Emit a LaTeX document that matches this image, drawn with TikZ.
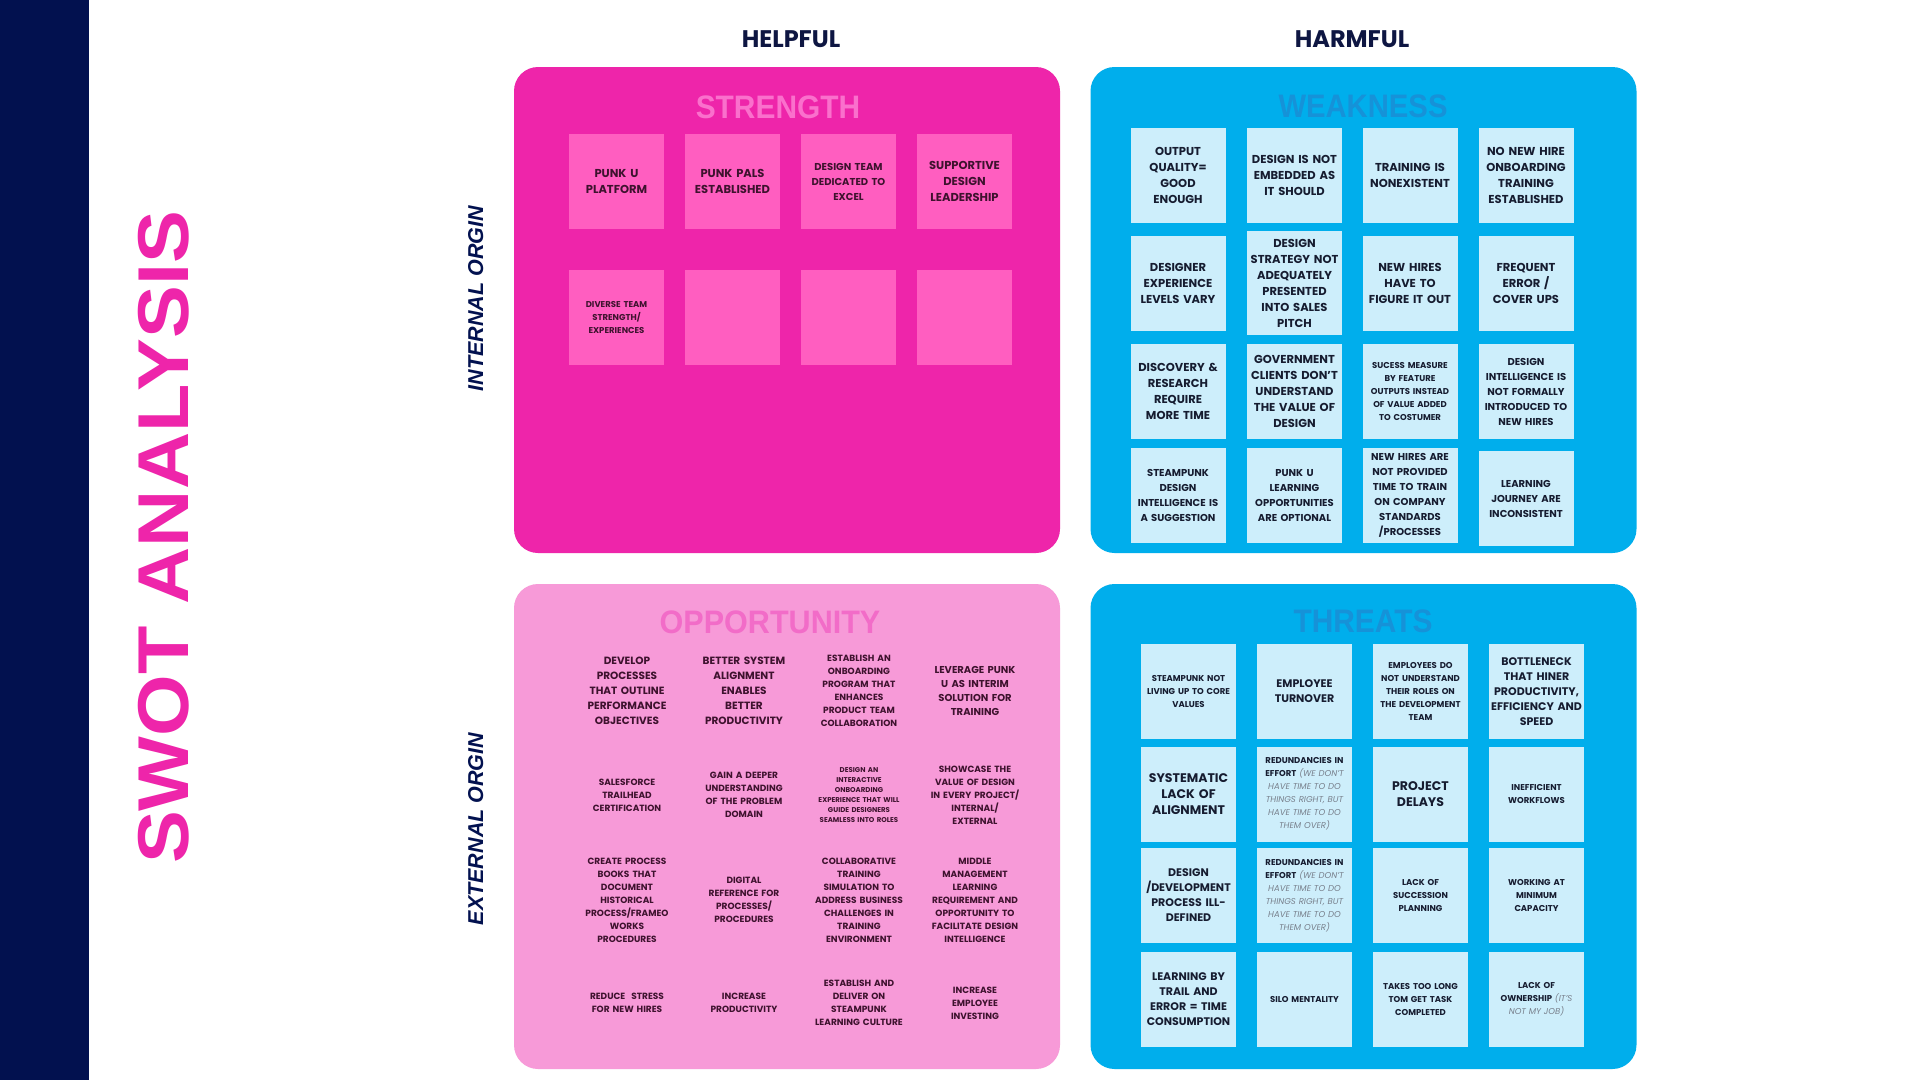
\documentclass[tikz,border=0pt]{standalone}
\usepackage{fontspec}
\setmainfont{Poppins}
\newfontfamily\tfont{Liberation Sans}
\definecolor{navy}{RGB}{2,17,79}
\definecolor{hdr}{RGB}{14,22,66}
\definecolor{sbox}{RGB}{238,37,170}
\definecolor{snote}{RGB}{255,94,192}
\definecolor{stitle}{RGB}{250,112,204}
\definecolor{wbox}{RGB}{0,174,236}
\definecolor{wnote}{RGB}{205,238,251}
\definecolor{wtitle}{RGB}{22,146,216}
\definecolor{obox}{RGB}{247,154,216}
\definecolor{otitle}{RGB}{242,108,200}
\definecolor{ptext}{RGB}{62,18,46}
\definecolor{btext}{RGB}{22,28,48}
\definecolor{itgray}{RGB}{120,128,140}
\newcommand\fz[2]{\fontsize{#1pt}{#2pt}\selectfont\bfseries}
\newcommand\gi[1]{{\mdseries\itshape\color{itgray}#1}}
\tikzset{
  quad/.style={rounded corners=24pt, inner sep=0pt, minimum width=546pt, minimum height=486pt},
  pnote/.style={fill=snote, minimum width=95pt, minimum height=95pt, inner sep=0pt, text width=94pt, align=center, text=ptext},
  bnote/.style={fill=wnote, minimum width=95pt, minimum height=95pt, inner sep=0pt, text width=94pt, align=center, text=btext},
  otxt/.style={inner sep=0pt, text width=110pt, align=center, text=ptext},
  qtitle/.style={anchor=base, inner sep=0pt, font=\tfont\bfseries\fontsize{32.5pt}{34pt}\selectfont},
  side/.style={anchor=base, rotate=90, inner sep=0pt, text=navy, font=\tfont\bfseries\itshape\fontsize{21.5pt}{22pt}\selectfont},
  head/.style={anchor=base, inner sep=0pt, text=hdr, font=\fz{24}{26}}
}
\begin{document}
\begin{tikzpicture}[x=1pt,y=-1pt]
\path[use as bounding box] (0,0) rectangle (1920,1080);
\fill[white] (0,0) rectangle (1920,1080);
\fill[navy] (0,0) rectangle (89,1080);

% title and side labels
\node[anchor=base, rotate=90, inner sep=0pt, text=sbox, font=\tfont\bfseries\fontsize{72pt}{74pt}\selectfont] (title) at (188,537.5) {\scalebox{1.1}[1]{SWOT ANALYSIS}};
\node[side] (internal) at (483,298.5) {INTERNAL ORGIN};
\node[side] (external) at (483,829) {EXTERNAL ORGIN};
\node[head] (helpful) at (791,47) {HELPFUL};
\node[head] (harmful) at (1352,47) {HARMFUL};

% quadrants
\node[quad, fill=sbox] (S) at (787,310) {};
\node[quad, fill=wbox] (W) at (1363.5,310) {};
\node[quad, fill=obox, minimum height=485pt] (O) at (787,826.5) {};
\node[quad, fill=wbox, minimum height=485pt] (T) at (1363.5,826.5) {};

\node[qtitle, text=stitle] (St) at (778,118) {\scalebox{0.92}[1]{STRENGTH}};
\node[qtitle, text=wtitle] (Wt) at (1363,117) {\scalebox{0.9}[1]{WEAKNESS}};
\node[qtitle, text=otitle] (Ot) at (770,633) {\scalebox{0.94}[1]{OPPORTUNITY}};
\node[qtitle, text=wtitle] (Tt) at (1363,632) {\scalebox{0.92}[1]{THREATS}};

% strength notes
\node[pnote, font=\fz{11.5}{16}] (s1) at (616.5,181.5) {PUNK U\\PLATFORM};
\node[pnote, font=\fz{11.5}{16}] (s2) at (732.5,181.5) {PUNK PALS\\ESTABLISHED};
\node[pnote, font=\fz{10}{15}] (s3) at (848.5,181.5) {DESIGN TEAM\\DEDICATED TO\\EXCEL};
\node[pnote, font=\fz{11.5}{16}] (s4) at (964.5,181.5) {SUPPORTIVE\\DESIGN\\LEADERSHIP};
\node[pnote, font=\fz{8.5}{13}] (s5) at (616.5,317.5) {DIVERSE TEAM\\STRENGTH/\\EXPERIENCES};
\node[pnote] (s6) at (732.5,317.5) {};
\node[pnote] (s7) at (848.5,317.5) {};
\node[pnote] (s8) at (964.5,317.5) {};

% weakness notes
\node[bnote, font=\fz{11.5}{16}] (w1) at (1178,175.5) {OUTPUT\\QUALITY=\\GOOD\\ENOUGH};
\node[bnote, font=\fz{11.5}{16}] (w2) at (1294.5,175.5) {DESIGN IS NOT\\EMBEDDED AS\\IT SHOULD};
\node[bnote, font=\fz{11.5}{16}] (w3) at (1410,175.5) {TRAINING IS\\NONEXISTENT};
\node[bnote, font=\fz{11.5}{16}] (w4) at (1526,175.5) {NO NEW HIRE\\ONBOARDING\\TRAINING\\ESTABLISHED};
\node[bnote, font=\fz{11.5}{16}] (w5) at (1178,283.5) {DESIGNER\\EXPERIENCE\\LEVELS VARY};
\node[bnote, font=\fz{11.5}{16}, minimum height=104pt] (w6) at (1294.5,283) {DESIGN\\STRATEGY NOT\\ADEQUATELY\\PRESENTED\\INTO SALES\\PITCH};
\node[bnote, font=\fz{11.5}{16}] (w7) at (1410,283.5) {NEW HIRES\\HAVE TO\\FIGURE IT OUT};
\node[bnote, font=\fz{11.5}{16}] (w8) at (1526,283.5) {FREQUENT\\ERROR /\\COVER UPS};
\node[bnote, font=\fz{11.5}{16}] (w9) at (1178,391.5) {DISCOVERY \&\\RESEARCH\\REQUIRE\\MORE TIME};
\node[bnote, font=\fz{11.5}{16}] (w10) at (1294.5,391.5) {GOVERNMENT\\CLIENTS DON'T\\UNDERSTAND\\THE VALUE OF\\DESIGN};
\node[bnote, font=\fz{8.5}{13}] (w11) at (1410,391.5) {SUCESS MEASURE\\BY FEATURE\\OUTPUTS INSTEAD\\OF VALUE ADDED\\TO COSTUMER};
\node[bnote, font=\fz{10}{15}] (w12) at (1526,391.5) {DESIGN\\INTELLIGENCE IS\\NOT FORMALLY\\INTRODUCED TO\\NEW HIRES};
\node[bnote, font=\fz{10}{15}] (w13) at (1178,495.5) {STEAMPUNK\\DESIGN\\INTELLIGENCE IS\\A SUGGESTION};
\node[bnote, font=\fz{10}{15}] (w14) at (1294.5,495.5) {PUNK U\\LEARNING\\OPPORTUNITIES\\ARE OPTIONAL};
\node[bnote, font=\fz{10}{15}] (w15) at (1410,495.5) {NEW HIRES ARE\\NOT PROVIDED\\TIME TO TRAIN\\ON COMPANY\\STANDARDS\\/PROCESSES};
\node[bnote, font=\fz{10}{15}] (w16) at (1526,498.5) {LEARNING\\JOURNEY ARE\\INCONSISTENT};

% opportunity texts
\node[otxt, font=\fz{10.5}{15}] (o1) at (627,691) {DEVELOP\\PROCESSES\\THAT OUTLINE\\PERFORMANCE\\OBJECTIVES};
\node[otxt, font=\fz{10.5}{15}] (o2) at (744,691) {BETTER SYSTEM\\ALIGNMENT\\ENABLES\\BETTER\\PRODUCTIVITY};
\node[otxt, font=\fz{9}{13}] (o3) at (859,691) {ESTABLISH AN\\ONBOARDING\\PROGRAM THAT\\ENHANCES\\PRODUCT TEAM\\COLLABORATION};
\node[otxt, font=\fz{10}{14}] (o4) at (975,691) {LEVERAGE PUNK\\U AS INTERIM\\SOLUTION FOR\\TRAINING};
\node[otxt, font=\fz{9}{13}] (o5) at (627,795) {SALESFORCE\\TRAILHEAD\\CERTIFICATION};
\node[otxt, font=\fz{9}{13}] (o6) at (744,795) {GAIN A DEEPER\\UNDERSTANDING\\OF THE PROBLEM\\DOMAIN};
\node[otxt, font=\fz{7}{10}] (o7) at (859,795) {DESIGN AN\\INTERACTIVE\\ONBOARDING\\EXPERIENCE THAT WILL\\GUIDE DESIGNERS\\SEAMLESS INTO ROLES};
\node[otxt, font=\fz{9}{13}] (o8) at (975,795) {SHOWCASE THE\\VALUE OF DESIGN\\IN EVERY PROJECT/\\INTERNAL/\\EXTERNAL};
\node[otxt, font=\fz{9}{13}] (o9) at (627,900) {CREATE PROCESS\\BOOKS THAT\\DOCUMENT\\HISTORICAL\\PROCESS/FRAMEO\\WORKS\\PROCEDURES};
\node[otxt, font=\fz{9}{13}] (o10) at (744,900) {DIGITAL\\REFERENCE FOR\\PROCESSES/\\PROCEDURES};
\node[otxt, font=\fz{9}{13}] (o11) at (859,900) {COLLABORATIVE\\TRAINING\\SIMULATION TO\\ADDRESS BUSINESS\\CHALLENGES IN\\TRAINING\\ENVIRONMENT};
\node[otxt, font=\fz{9}{13}] (o12) at (975,900) {MIDDLE\\MANAGEMENT\\LEARNING\\REQUIREMENT AND\\OPPORTUNITY TO\\FACILITATE DESIGN\\INTELLIGENCE};
\node[otxt, font=\fz{9}{13}] (o13) at (627,1003) {REDUCE~ STRESS\\FOR NEW HIRES};
\node[otxt, font=\fz{9}{13}] (o14) at (744,1003) {INCREASE\\PRODUCTIVITY};
\node[otxt, font=\fz{9}{13}] (o15) at (859,1003) {ESTABLISH AND\\DELIVER ON\\STEAMPUNK\\LEARNING CULTURE};
\node[otxt, font=\fz{9}{13}] (o16) at (975,1003) {INCREASE\\EMPLOYEE\\INVESTING};

% threat notes
\node[bnote, font=\fz{8.5}{13}] (t1) at (1188.5,691.5) {STEAMPUNK NOT\\LIVING UP TO CORE\\VALUES};
\node[bnote, font=\fz{11}{15}] (t2) at (1304.5,691.5) {EMPLOYEE\\TURNOVER};
\node[bnote, font=\fz{8.5}{13}] (t3) at (1420.5,691.5) {EMPLOYEES DO\\NOT UNDERSTAND\\THEIR ROLES ON\\THE DEVELOPMENT\\TEAM};
\node[bnote, font=\fz{11}{15}] (t4) at (1536.5,691.5) {BOTTLENECK\\THAT HINER\\PRODUCTIVITY,\\EFFICIENCY AND\\SPEED};
\node[bnote, font=\fz{12.5}{16}] (t5) at (1188.5,794) {SYSTEMATIC\\LACK OF\\ALIGNMENT};
\node[bnote, font=\fz{8.5}{13}] (t6) at (1304.5,794) {REDUNDANCIES IN\\EFFORT \gi{(WE DON'T}\\\gi{HAVE TIME TO DO}\\\gi{THINGS RIGHT, BUT}\\\gi{HAVE TIME TO DO}\\\gi{THEM OVER)}};
\node[bnote, font=\fz{12.5}{16}] (t7) at (1420.5,794) {PROJECT\\DELAYS};
\node[bnote, font=\fz{8.5}{13}] (t8) at (1536.5,794) {INEFFICIENT\\WORKFLOWS};
\node[bnote, font=\fz{11}{15}] (t9) at (1188.5,895.5) {DESIGN\\/DEVELOPMENT\\PROCESS ILL-\\DEFINED};
\node[bnote, font=\fz{8.5}{13}] (t10) at (1304.5,895.5) {REDUNDANCIES IN\\EFFORT \gi{(WE DON'T}\\\gi{HAVE TIME TO DO}\\\gi{THINGS RIGHT, BUT}\\\gi{HAVE TIME TO DO}\\\gi{THEM OVER)}};
\node[bnote, font=\fz{8.5}{13}] (t11) at (1420.5,895.5) {LACK OF\\SUCCESSION\\PLANNING};
\node[bnote, font=\fz{8.5}{13}] (t12) at (1536.5,895.5) {WORKING AT\\MINIMUM\\CAPACITY};
\node[bnote, font=\fz{11}{15}] (t13) at (1188.5,999.5) {LEARNING BY\\TRAIL AND\\ERROR = TIME\\CONSUMPTION};
\node[bnote, font=\fz{8.5}{13}] (t14) at (1304.5,999.5) {SILO MENTALITY};
\node[bnote, font=\fz{8.5}{13}] (t15) at (1420.5,999.5) {TAKES TOO LONG\\TOM GET TASK\\COMPLETED};
\node[bnote, font=\fz{8.5}{13}] (t16) at (1536.5,999.5) {LACK OF\\OWNERSHIP \gi{(IT'S}\\\gi{NOT MY JOB)}};
\end{tikzpicture}
\end{document}
